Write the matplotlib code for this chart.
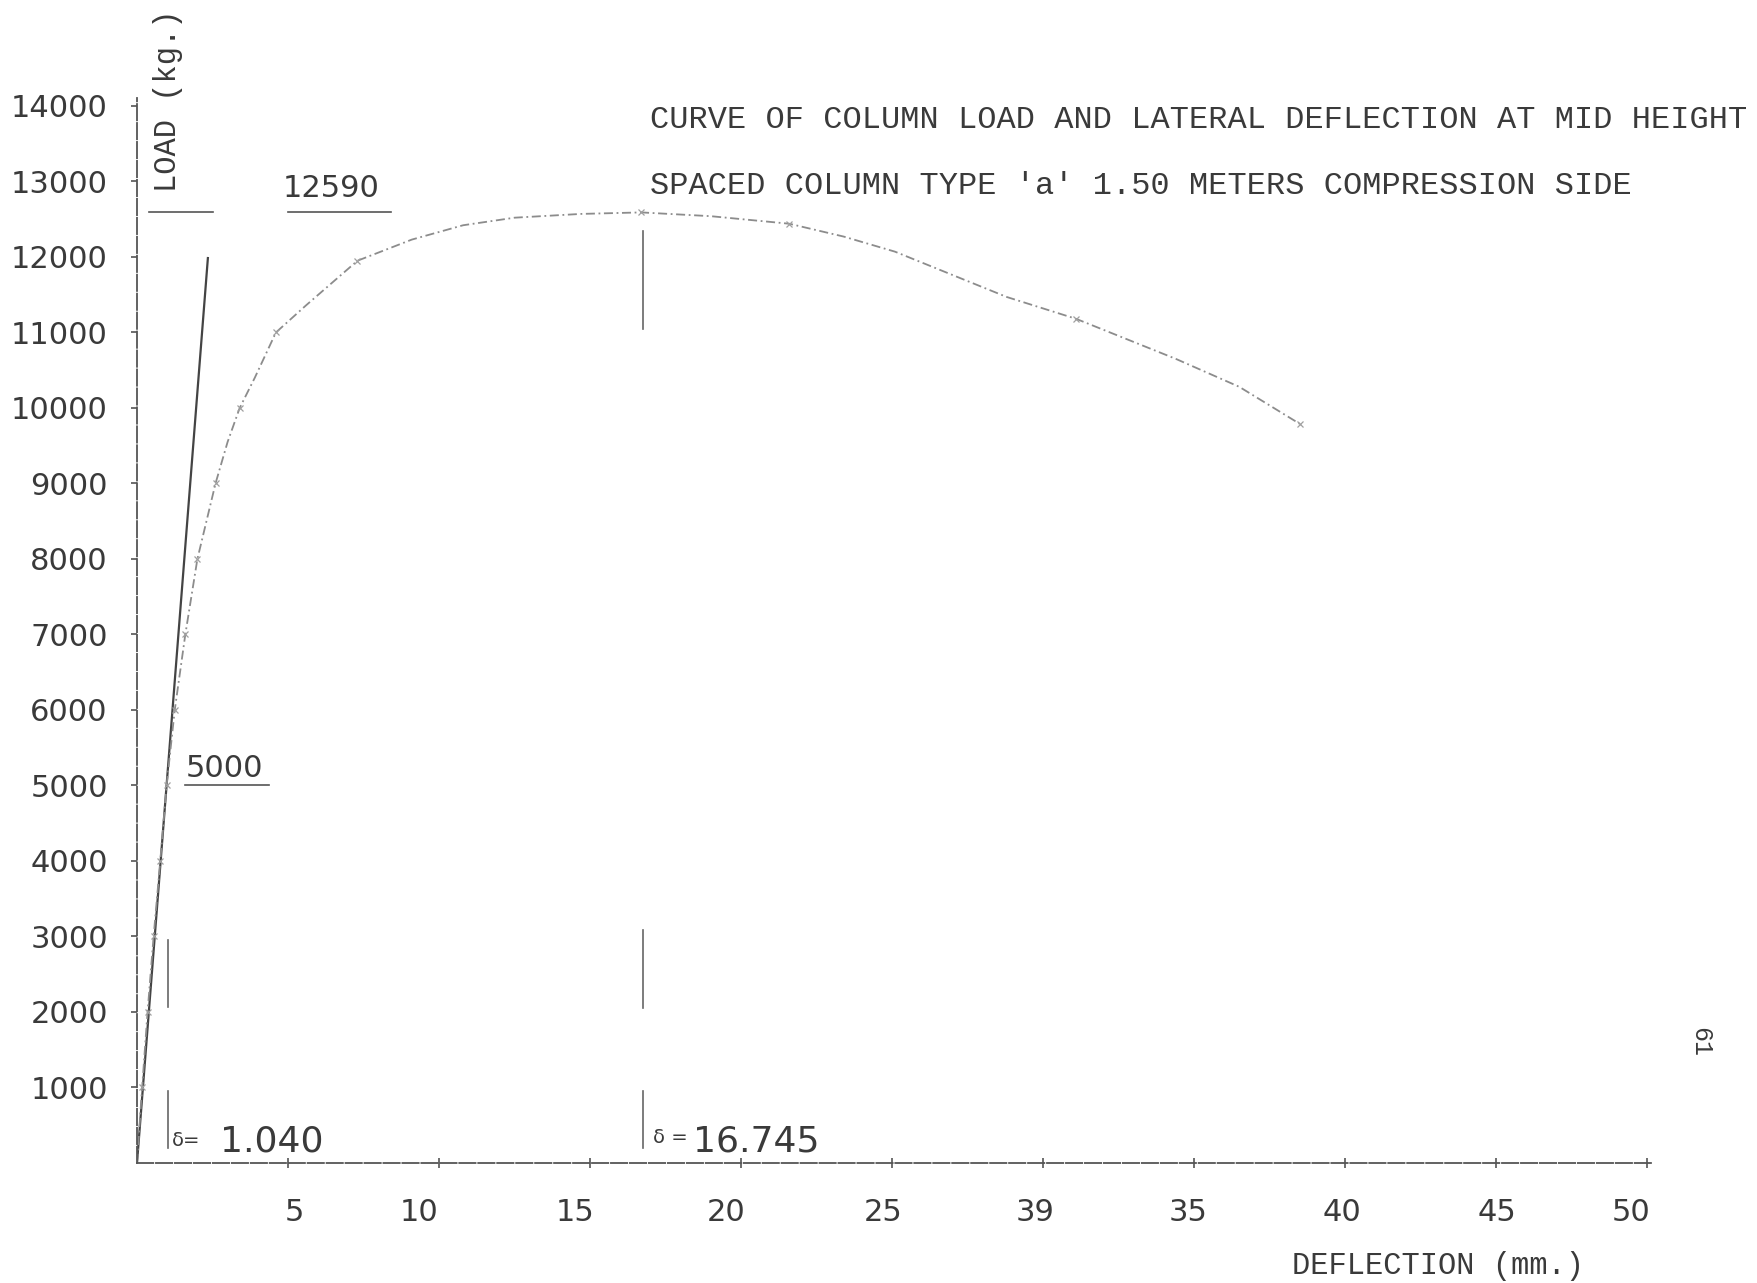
import matplotlib
matplotlib.use("Agg")
import matplotlib.pyplot as plt
from matplotlib.transforms import ScaledTranslation

# load / deflection readings (mm, kg)
defl = [0, 0.17, 0.35, 0.55, 0.77, 0.98, 1.25, 1.6, 2.0, 2.6, 3.0, 3.4, 3.9,
        4.6, 5.6, 7.3, 9.1, 10.8, 12.5, 14.7, 16.7, 19.0, 21.6, 23.4, 25.1,
        28.8, 31.1, 34.4, 36.5, 38.5]
load = [0, 1000, 2000, 3000, 4000, 5000, 6000, 7000, 8000, 9000, 9550, 10000, 10400,
        11000, 11360, 11950, 12230, 12420, 12520, 12570, 12590, 12540, 12440, 12270, 12070,
        11470, 11180, 10650, 10280, 9790]
# points marked with small crosses on the original
mark_defl = [0.17, 0.35, 0.55, 0.77, 0.98, 1.25, 1.6, 2.0, 2.6, 3.4, 4.6, 7.3, 16.7, 21.6, 31.1, 38.5]
mark_load = [1000, 2000, 3000, 4000, 5000, 6000, 7000, 8000, 9000, 10000, 11000, 11950, 12590, 12440, 11180, 9790]

# straight initial line
line_defl = [0, 2.35]
line_load = [0, 12000]

max_load = 12590
ref_load = 5000
delta1 = 1.040
delta2 = 16.745

xticks = [5, 10, 15, 20, 25, 30, 35, 40, 45, 50]
xlabels = ['5', '10', '15', '20', '25', '39', '35', '40', '45', '50']
yticks = list(range(1000, 15000, 1000))

W, H = 1757, 1283
fig = plt.figure(figsize=(W / 100, H / 100), dpi=100)
ax = fig.add_axes([137 / W, 1 - 1163 / H, 1514.5 / W, 1064.6 / H])
ax.set_xlim(0, 50.15)
ax.set_ylim(0, 14100)

ink = '#3a3a3a'
num_font = 'DejaVu Sans'
type_font = 'Liberation Mono'

for s in ['top', 'right']:
    ax.spines[s].set_visible(False)
for s in ['left', 'bottom']:
    ax.spines[s].set_color('#555555')
    ax.spines[s].set_linewidth(1.3)
    ax.spines[s].set_linestyle((0, (9, 1.5)))

ax.set_xticks(xticks)
ax.set_xticklabels(xlabels, fontsize=22, color=ink, family=num_font)
ax.set_yticks(yticks)
ax.set_yticklabels([str(v) for v in yticks], fontsize=22, color=ink, family=num_font)
ax.tick_params(axis='x', direction='inout', length=7, width=1.2, color='#555555', pad=22)
ax.tick_params(axis='y', direction='out', length=4, width=1.2, color='#555555', pad=17)

# typed labels do not sit exactly under their ticks
shifts = [6, -20, -15, -15, -9, -8, -6, -3, 1, -16]
for lab, dx in zip(ax.get_xticklabels(), shifts):
    lab.set_transform(lab.get_transform() + ScaledTranslation(dx / 100, 0, fig.dpi_scale_trans))

ax.plot(line_defl, line_load, color='#444444', lw=1.6, solid_capstyle='butt')
ax.plot(defl, load, color='#8c8c8c', lw=1.3, dashes=(5, 2, 1, 2))
ax.plot(mark_defl, mark_load, 'x', color='#a0a0a0', ms=5, mew=0.9)

# guide lines
ax.plot([0.4, 2.52], [max_load, max_load], color='#555555', lw=1.2)
ax.plot([5.0, 8.4], [max_load, max_load], color='#555555', lw=1.2)
ax.plot([1.6, 4.37], [ref_load, ref_load], color='#555555', lw=1.2)
for x, segs in [(delta1, [(200, 950), (2070, 2950)]),
                (delta2, [(200, 950), (2050, 3080), (11050, 12350)])]:
    for y0, y1 in segs:
        ax.plot([x, x], [y0, y1], color='#666666', lw=1.2)

ax.text(6.42, 12910, str(max_load), fontsize=22, color=ink, family=num_font,
        ha='center', va='center')
ax.text(2.91, 5230, str(ref_load), fontsize=22, color=ink, family=num_font,
        ha='center', va='center')
ax.text(delta1 + 0.1, 300, 'δ=', fontsize=14, color=ink, family=num_font, ha='left', va='center')
ax.text(2.75, 280, '%.3f' % delta1, fontsize=26, color=ink, family=num_font, ha='left', va='center')
ax.text(delta2 + 0.35, 340, 'δ =', fontsize=14, color=ink, family=num_font, ha='left', va='center')
ax.text(18.4, 280, '%.3f' % delta2, fontsize=26, color=ink, family=num_font, ha='left', va='center')

fig.text(650 / W, 1 - 120 / H, 'CURVE OF COLUMN LOAD AND LATERAL DEFLECTION AT MID HEIGHT',
         fontsize=23, color=ink, family=type_font, ha='left', va='center')
fig.text(650 / W, 1 - 186 / H, "SPACED COLUMN TYPE 'a' 1.50 METERS COMPRESSION SIDE",
         fontsize=23, color=ink, family=type_font, ha='left', va='center')
fig.text(168 / W, 1 - 101 / H, 'LOAD (kg.)', fontsize=22, color=ink, family=type_font,
         rotation=90, ha='center', va='center')
fig.text(1438 / W, 1 - 1266 / H, 'DEFLECTION (mm.)', fontsize=22, color=ink, family=type_font,
         ha='center', va='center')
fig.text(1700 / W, 1 - 1042 / H, '61', fontsize=18, color=ink, family=type_font,
         rotation=-90, ha='center', va='center')

fig.savefig('out.png', dpi=100)
